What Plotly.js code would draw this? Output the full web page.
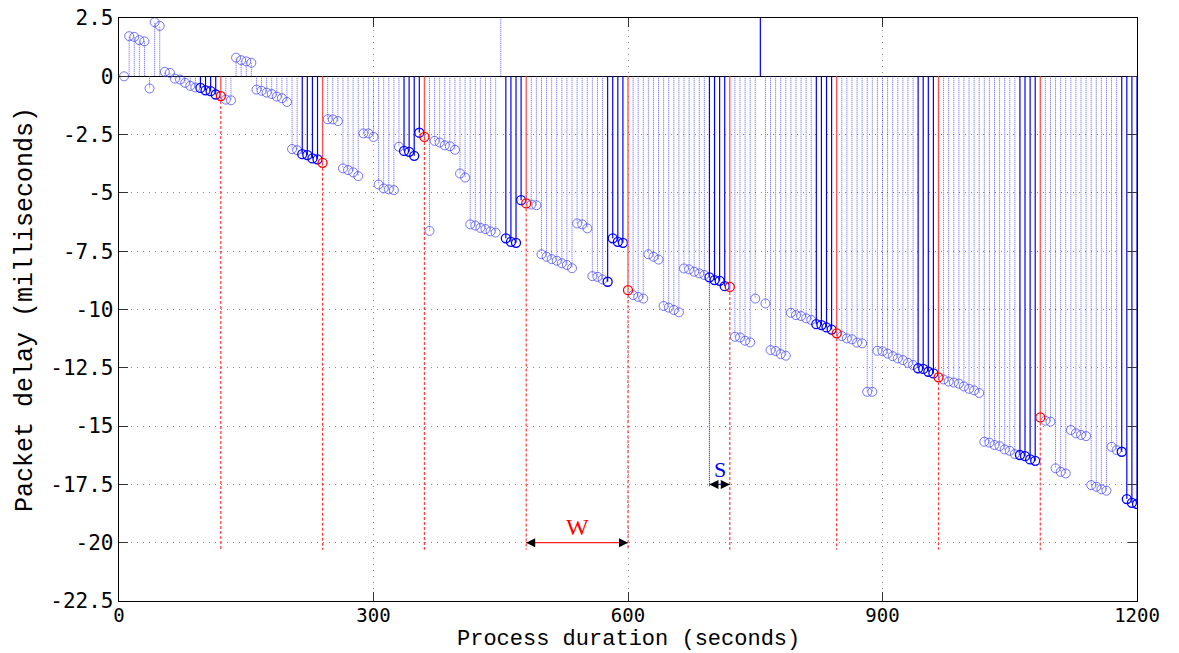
<!DOCTYPE html>
<html>
<head>
<meta charset="utf-8">
<script src="https://cdn.plot.ly/plotly-3.0.1.min.js"></script>
<style>
  html, body { margin: 0; padding: 0; background: #fff; }
  #chart { width: 1179px; height: 653px; }
</style>
</head>
<body>
<div id="chart"></div>
<script>
// ---- data ----
const times = [6,12,18,24,30,36,42,48,54,60,66,72,78,84,90,96,102,108,114,120,
  126,132,138,144,150,156,162,168,174,180,186,192,198,204,210,216,222,228,234,240,
  246,252,258,264,270,276,282,288,294,300,306,312,318,324,330,336,342,348,354,360,
  366,372,378,384,390,396,402,408,414,420,426,432,438,444,450,456,462,468,474,480,
  486,492,498,504,510,516,522,528,534,540,546,552,558,564,570,576,582,588,594,600,
  606,612,618,624,630,636,642,648,654,660,666,672,678,684,690,696,702,708,714,720,
  726,732,738,744,750,756,762,768,774,780,786,792,798,804,810,816,822,828,834,840,
  846,852,858,864,870,876,882,888,894,900,906,912,918,924,930,936,942,948,954,960,
  966,972,978,984,990,996,1002,1008,1014,1020,1026,1032,1038,1044,1050,1056,1062,1068,1074,1080,
  1086,1092,1098,1104,1110,1116,1122,1128,1134,1140,1146,1152,1158,1164,1170,1176,1182,1188,1194,1200];

const delays = [0,1.72,1.69,1.55,1.5,-0.52,2.32,2.16,0.19,0.15,-0.1,-0.14,-0.28,-0.41,-0.48,-0.5,-0.6,-0.64,-0.78,-0.85,
  -1.0,-1.03,0.8,0.69,0.64,0.58,-0.57,-0.62,-0.7,-0.76,-0.87,-0.94,-1.1,-3.12,-3.17,-3.34,-3.38,-3.52,-3.56,-3.71,
  -1.84,-1.85,-1.92,-3.95,-4.02,-4.12,-4.28,-2.45,-2.45,-2.6,-4.64,-4.81,-4.85,-4.88,-3.02,-3.2,-3.24,-3.41,-2.42,-2.6,
  -6.63,-2.77,-2.84,-2.96,-3.0,-3.15,-4.17,-4.34,-6.35,-6.4,-6.5,-6.55,-6.65,-6.7,3.5,-6.95,-7.1,-7.14,-5.31,-5.45,
  -5.5,-5.53,-7.63,-7.74,-7.84,-7.91,-8.02,-8.09,-8.23,-6.31,-6.35,-6.52,-8.57,-8.6,-8.71,-8.81,-6.95,-7.1,-7.14,-9.17,
  -9.38,-9.46,-9.53,-7.63,-7.74,-7.86,-9.85,-9.92,-10.02,-10.12,-8.24,-8.28,-8.38,-8.45,-8.52,-8.62,-8.74,-8.77,-9.0,-9.03,
  -11.17,-11.2,-11.34,-11.41,-9.53,3.5,-9.74,-11.74,-11.78,-11.91,-11.98,-10.14,-10.24,-10.28,-10.38,-10.45,-10.63,-10.67,-10.77,-10.86,
  -11.02,-11.14,-11.24,-11.28,-11.42,-11.45,-13.53,-13.53,-11.77,-11.79,-11.89,-12.0,-12.1,-12.17,-12.29,-12.38,-12.52,-12.55,-12.67,-12.74,
  -12.91,-13.0,-13.09,-13.13,-13.18,-13.3,-13.4,-13.47,-13.58,-15.67,-15.71,-15.81,-15.86,-16.0,-16.06,-16.2,-16.24,-16.29,-16.43,-16.49,
  -14.63,-14.77,-14.81,-16.81,-16.96,-17.03,-15.17,-15.31,-15.38,-15.43,-17.53,-17.6,-17.71,-17.77,-15.89,-16.03,-16.1,-18.13,-18.29,-18.34];

// samples inside the S interval before each window end (solid stems)
const sWindowTimes = [96,102,108,114, 216,222,228,234, 336,342,348,354, 456,462,468,474,
  576,582,588,594, 696,702,708,714, 756, 822,828,834,840, 942,948,954,960,
  1062,1068,1074,1080, 1182,1188,1194,1200];
// window end samples (red)
const windowEndTimes = [120,240,360,480,600,720,846,966,1086];
const dashFloor = -20.3;
const wSpan = [480, 600], wLevel = -20;
const sSpan = [696, 720], sLevel = -17.5;

const xTicks = [0,300,600,900,1200];
const yTicks = [2.5,0,-2.5,-5,-7.5,-10,-12.5,-15,-17.5,-20,-22.5];
const yTickText = ['2.5','0','-2.5','-5','-7.5','-10','-12.5','-15','-17.5','-20','-22.5'];

// ---- build traces ----
function stems(xs, ys, base) {
  const X = [], Y = [];
  xs.forEach((x, i) => { X.push(x, x, null); Y.push(base === undefined ? 0 : base[i], ys[i], null); });
  return {X, Y};
}
const light = {x: [], y: []}, dark = {x: [], y: []}, red = {x: [], y: []};
times.forEach((t, i) => {
  const v = delays[i];
  if (windowEndTimes.includes(t)) { red.x.push(t); red.y.push(v); }
  else if (sWindowTimes.includes(t)) { dark.x.push(t); dark.y.push(v); }
  else { light.x.push(t); light.y.push(v); }
});
const ls = stems(light.x, light.y), ds = stems(dark.x, dark.y), rs = stems(red.x, red.y);
const rd = stems(red.x, red.x.map(() => dashFloor), red.y);
const sIdx = times.indexOf(sSpan[0]);
const sb = stems([sSpan[0]], [sLevel - 0.1], [delays[sIdx]]);

const traces = [
  {x: ls.X, y: ls.Y, mode: 'lines', line: {color: 'rgba(50,50,255,0.8)', width: 1, dash: '1px,1px'}, hoverinfo: 'skip'},
  {x: light.x, y: light.y, mode: 'markers', marker: {symbol: 'circle-open', size: 9, color: 'rgba(70,70,255,0.75)', line: {width: 1}}},
  {x: ds.X, y: ds.Y, mode: 'lines', line: {color: '#0000ff', width: 1.2}, hoverinfo: 'skip'},
  {x: dark.x, y: dark.y, mode: 'markers', marker: {symbol: 'circle-open', size: 9, color: '#0000ff', line: {width: 1.3}}},
  {x: rs.X, y: rs.Y, mode: 'lines', line: {color: '#ff5050', width: 1.3}, hoverinfo: 'skip'},
  {x: rd.X, y: rd.Y, mode: 'lines', line: {color: '#ff3b3b', width: 1.2, dash: '3px,2px'}, hoverinfo: 'skip'},
  {x: sb.X, y: sb.Y, mode: 'lines', line: {color: '#1010ff', width: 1.1, dash: '1px,1px'}, hoverinfo: 'skip'},
  {x: red.x, y: red.y, mode: 'markers', marker: {symbol: 'circle-open', size: 9, color: '#ff0000', line: {width: 1.3}}},
  {x: wSpan, y: [wLevel, wLevel], mode: 'lines', line: {color: '#ff2020', width: 1.3}, hoverinfo: 'skip'},
  {x: sSpan, y: [sLevel, sLevel], mode: 'lines', line: {color: '#2020ff', width: 1.3}, hoverinfo: 'skip'}
];

function head(x, from, y) {
  return {x: x, y: y, ax: from, ay: y, xref: 'x', yref: 'y', axref: 'x', ayref: 'y',
    text: '', showarrow: true, arrowhead: 2, arrowsize: 1.5, arrowwidth: 1.2, arrowcolor: '#000'};
}

const layout = {
  width: 1179, height: 653,
  margin: {l: 119, r: 41.5, t: 18, b: 52},
  paper_bgcolor: '#fff', plot_bgcolor: '#fff',
  showlegend: false,
  font: {family: 'DejaVu Sans Mono, monospace', color: '#000'},
  xaxis: {
    range: [0, 1200], tickvals: xTicks, ticktext: xTicks.map(String),
    ticks: 'inside', ticklen: 9, tickcolor: '#333', tickwidth: 1,
    showline: true, linecolor: '#000', linewidth: 1.3, mirror: 'ticks',
    showgrid: true, gridcolor: '#888', griddash: '1px,5px', gridwidth: 1,
    zeroline: false, ticklabelstandoff: -3,
    tickfont: {family: 'DejaVu Sans Mono, monospace', size: 19, color: '#000'}
  },
  yaxis: {
    range: [-22.5, 2.5], tickvals: yTicks, ticktext: yTickText,
    ticks: 'inside', ticklen: 9, tickcolor: '#333', tickwidth: 1,
    showline: true, linecolor: '#000', linewidth: 1.3, mirror: 'ticks',
    showgrid: true, gridcolor: '#888', griddash: '1px,5px', gridwidth: 1,
    zeroline: true, zerolinecolor: '#000', zerolinewidth: 1.2,
    tickfont: {family: 'DejaVu Sans Mono, monospace', size: 21, color: '#000'},
    title: {text: 'Packet delay (milliseconds)', font: {family: 'Liberation Mono, Courier New, monospace', size: 25, color: '#000'}, standoff: 10}
  },
  annotations: [
    head(wSpan[0], wSpan[0] + 12, wLevel), head(wSpan[1], wSpan[1] - 12, wLevel),
    head(sSpan[0], sSpan[0] + 9, sLevel), head(sSpan[1], sSpan[1] - 9, sLevel),
    {x: (wSpan[0] + wSpan[1]) / 2, y: wLevel, xref: 'x', yref: 'y', text: 'W', showarrow: false,
     yanchor: 'bottom', yshift: 1, font: {family: 'Liberation Serif, Times New Roman, serif', size: 24, color: '#ff0000'}},
    {x: (sSpan[0] + sSpan[1]) / 2, y: sLevel, xref: 'x', yref: 'y', text: 'S', showarrow: false,
     yanchor: 'bottom', yshift: 0, font: {family: 'Liberation Serif, Times New Roman, serif', size: 22, color: '#0000ff'}},
    {x: 0.5, y: 0, xref: 'paper', yref: 'paper', text: 'Process duration (seconds)', showarrow: false,
     yanchor: 'top', yshift: -24, font: {family: 'Liberation Mono, Courier New, monospace', size: 22, color: '#000'}}
  ]
};

Plotly.newPlot('chart', traces, layout, {displayModeBar: false, staticPlot: true});
</script>
</body>
</html>
